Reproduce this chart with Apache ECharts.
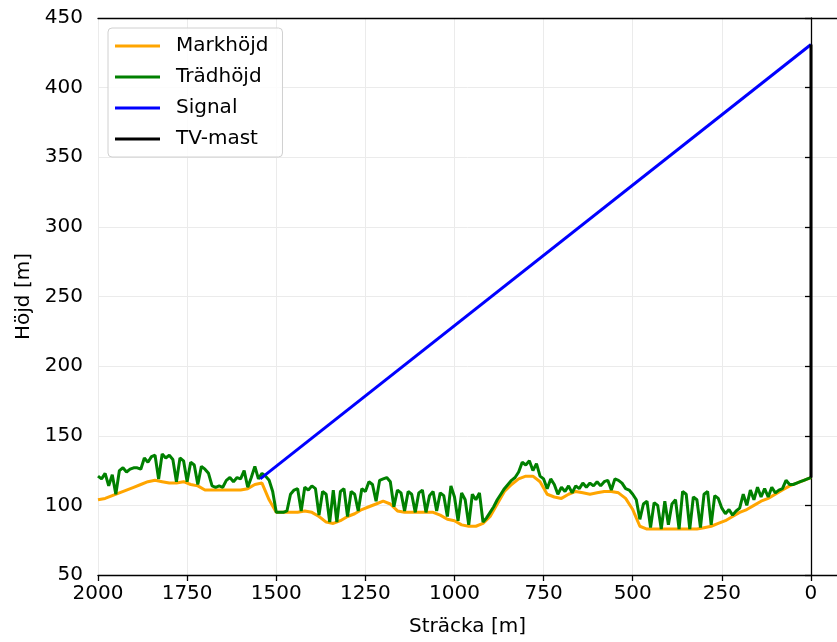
<!DOCTYPE html>
<html>
<head>
<meta charset="utf-8">
<script src="https://cdn.jsdelivr.net/npm/echarts@6/dist/echarts.min.js"></script>
<style>html,body{margin:0;padding:0;background:#fff}#c{width:837px;height:642px}</style>
</head>
<body>
<div id="c"></div>
<script>
// Sampling grid (distance in metres, from 2000 down to 0)
const startDist = 2000;
const groundStep = 20;
const treeStep = 10;

// Markhöjd (ground height), every 20 m from 2000 to 0
const groundHeight = [
  104,105,107,109,111,113,115,117,118,117,
  116,116,117,115,114,111,111,111,111,111,
  111,112,115,116,104,95,95,95,95,96,
  95,92,88,87,89,92,94,97,99,101,
  103,101,96,95,95,95,95,95,93,90,
  89,86,85,85,87,92,101,110,115,119,
  121,121,117,108,106,105,108,110,109,108,
  109,110,110,109,105,97,85,83,83,83,
  83,83,83,83,83,84,85,87,89,92,
  95,97,100,103,105,108,111,114,116,118,
  120
];

// Trädhöjd (tree-top height), every 10 m from 2000 to 0
const treeHeight = [
  121,119,123,114,122,108,
  125,127,124,126,127,
  127,126,134,131,135,
  136,119,137,134,136,
  133,117,134,132,117,
  131,129,115,128,126,
  123,114,113,114,113,
  118,120,117,120,119,
  125,113,120,128,119,
  123,121,118,110,95,
  95,95,96,108,111,
  112,96,113,111,114,
  112,93,110,108,88,
  111,88,110,112,92,
  110,108,96,112,110,
  117,115,103,118,119,
  120,117,99,111,109,
  96,110,108,95,109,
  111,95,107,110,96,
  109,107,92,114,106,
  89,109,104,86,108,
  104,109,88,91,95,
  99,104,108,112,115,
  118,120,124,131,129,
  132,125,130,121,119,
  112,119,115,108,113,
  110,114,109,114,112,
  116,113,116,114,117,
  114,117,118,111,119,
  118,116,112,111,108,
  104,90,101,103,84,
  102,100,83,103,86,
  101,104,83,110,108,
  83,106,104,84,108,
  110,86,107,105,98,
  94,97,93,96,98,
  108,100,111,104,113,
  106,112,106,113,109,
  111,112,118,115,115,
  116,117,118,119,120
];

// Signal line: [distance, height]
const signalLine = [[1545, 119], [0, 431]];
// TV mast: [distance, height]
const mastLine = [[0, 120], [0, 431]];

const xTicks = [2000, 1750, 1500, 1250, 1000, 750, 500, 250, 0];

const groundData = groundHeight.map((h, i) => [startDist - i * groundStep, h]);
const treeData = treeHeight.map((h, i) => [startDist - i * treeStep, h]);

const FONT = 'DejaVu Sans';
const chart = echarts.init(document.getElementById('c'), null, {renderer: 'canvas'});
chart.setOption({
  animation: false,
  backgroundColor: '#fff',
  grid: {left: 98, top: 18, right: 0, bottom: 66},
  legend: {
    orient: 'vertical',
    left: 108, top: 28,
    padding: [8, 14, 8, 7],
    itemGap: 11,
    itemWidth: 45, itemHeight: 3,
    icon: 'rect',
    backgroundColor: 'rgba(255,255,255,0.85)',
    borderColor: '#d0d0d0', borderWidth: 1, borderRadius: 4,
    textStyle: {fontFamily: FONT, fontSize: 20, color: '#000', padding: [0, 0, 0, 11]},
    data: ['Markhöjd', 'Trädhöjd', 'Signal', 'TV-mast']
  },
  xAxis: [{
    type: 'value', inverse: true, min: -73, max: 2000,
    name: 'Sträcka [m]', nameLocation: 'middle', nameGap: 42,
    nameTextStyle: {fontFamily: FONT, fontSize: 20, color: '#000'},
    axisLine: {show: true, onZero: false, lineStyle: {color: '#000', width: 1.3}},
    axisTick: {show: true, length: 6, lineStyle: {color: '#000', width: 1.3}, customValues: xTicks},
    axisLabel: {fontFamily: FONT, fontSize: 20, color: '#000', margin: 9, customValues: xTicks,
                formatter: v => String(v)},
    splitLine: {show: true, lineStyle: {color: '#ebebeb', width: 1}}
  }, {
    type: 'value', inverse: true, min: -73, max: 2000, position: 'top',
    axisLine: {show: true, onZero: false, lineStyle: {color: '#000', width: 1.3}},
    axisTick: {show: false}, axisLabel: {show: false}, splitLine: {show: false}
  }],
  yAxis: {
    type: 'value', min: 50, max: 450, interval: 50,
    name: 'Höjd [m]', nameLocation: 'middle', nameGap: 64,
    nameTextStyle: {fontFamily: FONT, fontSize: 20, color: '#000'},
    axisLine: {show: true, lineStyle: {color: '#000', width: 1.3}},
    axisTick: {show: true, length: 6, lineStyle: {color: '#000', width: 1.3}},
    axisLabel: {fontFamily: FONT, fontSize: 20, color: '#000', margin: 15},
    splitLine: {show: true, lineStyle: {color: '#ebebeb', width: 1}}
  },
  series: [
    {name: 'Markhöjd', type: 'line', data: groundData, showSymbol: false, symbol: 'none',
     lineStyle: {color: '#FFA500', width: 3}, itemStyle: {color: '#FFA500'}, z: 2},
    {name: 'Trädhöjd', type: 'line', data: treeData, showSymbol: false, symbol: 'none',
     lineStyle: {color: '#008000', width: 3}, itemStyle: {color: '#008000'}, z: 3},
    {name: 'Signal', type: 'line', data: signalLine, showSymbol: false, symbol: 'none',
     lineStyle: {color: '#0000FF', width: 3}, itemStyle: {color: '#0000FF'}, z: 4},
    {name: 'TV-mast', type: 'line', data: mastLine, showSymbol: false, symbol: 'none',
     lineStyle: {color: '#000000', width: 3}, itemStyle: {color: '#000000'}, z: 5}
  ]
});
</script>
</body>
</html>
